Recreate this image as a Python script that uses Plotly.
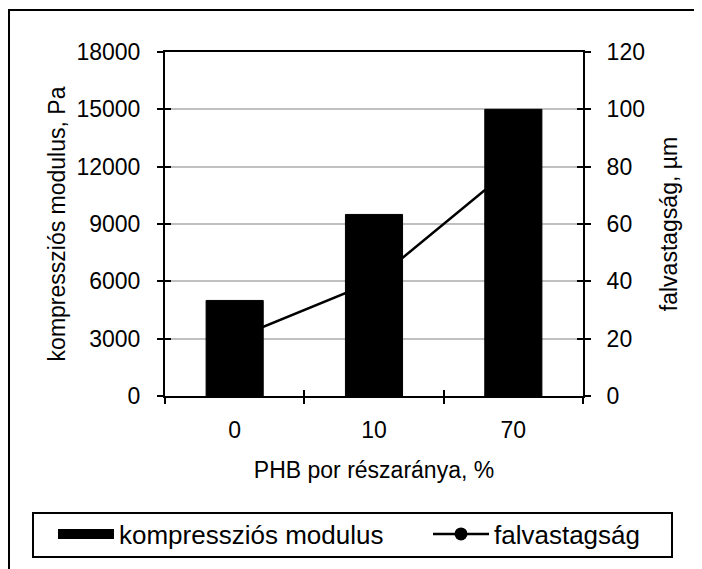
import plotly.graph_objects as go

categories = ["0", "10", "70"]
modulus = [5000, 9500, 15000]
thickness = [20, 40, 80]

left_ticks = [0, 3000, 6000, 9000, 12000, 15000, 18000]
left_ticktext = ["0", "3000", "6000", "9000", "12000", "15000", "18000"]
right_ticks = [0, 20, 40, 60, 80, 100, 120]

FONT = "Liberation Sans, Arial, sans-serif"
FS = 23
BLACK = "#000000"
OFF = 8  # page body margin offset

W, H = 702, 569
ML, MR, MT, MB = 165 - OFF, W - (583 - OFF), 52 - OFF, H - (396 - OFF)
PW, PH = W - ML - MR, H - MT - MB


def px(page_x):
    return (page_x - OFF - ML) / PW


def py(page_y):
    return (MT + PH - (page_y - OFF)) / PH


fig = go.Figure()

fig.add_trace(go.Bar(
    x=categories, y=modulus, name="kompressziós modulus",
    marker=dict(color=BLACK, line=dict(color=BLACK, width=1)),
    width=0.41, yaxis="y2", xaxis="x", showlegend=False,
))
# legend entry for the bars (wide black swatch)
fig.add_trace(go.Scatter(
    x=[None], y=[None], name="kompressziós modulus", mode="lines",
    line=dict(color=BLACK, width=19), yaxis="y", xaxis="x", hoverinfo="skip",
    legend="legend",
))
fig.add_trace(go.Scatter(
    x=categories, y=thickness, name="falvastagság", mode="lines+markers",
    line=dict(color=BLACK, width=2.5), marker=dict(color=BLACK, size=13, symbol="circle"),
    yaxis="y", xaxis="x", legend="legend2",
))
# dummy traces for inner half of crossing tick marks
fig.add_trace(go.Scatter(x=categories, y=[None]*3, xaxis="x2", yaxis="y", showlegend=False, hoverinfo="skip"))
fig.add_trace(go.Scatter(x=categories, y=[None]*3, xaxis="x", yaxis="y3", showlegend=False, hoverinfo="skip"))
fig.add_trace(go.Scatter(x=categories, y=[None]*3, xaxis="x", yaxis="y4", showlegend=False, hoverinfo="skip"))

tickcommon = dict(tickcolor=BLACK, tickwidth=2, ticklen=6)
legcommon = dict(
    orientation="h", xref="container", yref="container",
    xanchor="left", yanchor="middle", borderwidth=0, bgcolor="rgba(0,0,0,0)",
    font=dict(size=26), itemwidth=56,
)

fig.update_layout(
    width=W, height=H,
    paper_bgcolor="white", plot_bgcolor="white",
    font=dict(family=FONT, size=FS, color=BLACK),
    margin=dict(l=ML, r=MR, t=MT, b=MB, autoexpand=False),
    xaxis=dict(
        type="category", categoryorder="array", categoryarray=categories,
        range=[-0.5, 2.5], automargin=False,
        showline=True, linecolor=BLACK, linewidth=2, mirror=True,
        ticks="outside", tickson="boundaries", **tickcommon,
        showgrid=False, zeroline=False,
        ticklabelstandoff=12,
        title=dict(text="PHB por részaránya, %", standoff=20, font=dict(size=FS)),
    ),
    xaxis2=dict(
        type="category", categoryorder="array", categoryarray=categories,
        range=[-0.5, 2.5], overlaying="x", anchor="y", side="bottom", automargin=False,
        showline=False, ticks="inside", tickson="boundaries", **tickcommon,
        showticklabels=False, showgrid=False, zeroline=False,
    ),
    yaxis=dict(
        range=[0, 120], tickvals=right_ticks, side="right", automargin=False,
        showline=True, linecolor=BLACK, linewidth=2,
        ticks="outside", **tickcommon,
        showgrid=True, gridcolor="#c0c0c0", gridwidth=2,
        zeroline=False, ticklabelstandoff=11,
        title=dict(text="falvastagság, µm", standoff=17, font=dict(size=FS)),
    ),
    yaxis2=dict(
        range=[0, 18000], tickvals=left_ticks, ticktext=left_ticktext,
        side="left", overlaying="y", automargin=False,
        showline=True, linecolor=BLACK, linewidth=2,
        ticks="outside", **tickcommon,
        showgrid=False, zeroline=False, ticklabelstandoff=12,
        title=dict(text="kompressziós modulus, Pa", standoff=4, font=dict(size=FS)),
    ),
    yaxis3=dict(
        range=[0, 120], tickvals=right_ticks, side="right", overlaying="y", automargin=False,
        showline=False, ticks="inside", **tickcommon,
        showticklabels=False, showgrid=False, zeroline=False,
    ),
    yaxis4=dict(
        range=[0, 120], tickvals=right_ticks, side="left", overlaying="y", automargin=False,
        showline=False, ticks="inside", **tickcommon,
        showticklabels=False, showgrid=False, zeroline=False,
    ),
    legend=dict(x=(53 - OFF) / W, y=1 - (534 - OFF) / H, **legcommon),
    legend2=dict(x=(428 - OFF) / W, y=1 - (534 - OFF) / H, **legcommon),
    showlegend=True,
    shapes=[
        dict(
            type="rect", xref="paper", yref="paper",
            x0=px(9), x1=1.5, y0=-1.0, y1=py(10),
            line=dict(color=BLACK, width=2), fillcolor="rgba(0,0,0,0)", layer="below",
        ),
        dict(
            type="rect", xref="paper", yref="paper",
            x0=px(33), x1=px(672), y0=py(557), y1=py(513),
            line=dict(color=BLACK, width=2), fillcolor="white", layer="below",
        ),
    ],
)

fig.write_html("out.html")
